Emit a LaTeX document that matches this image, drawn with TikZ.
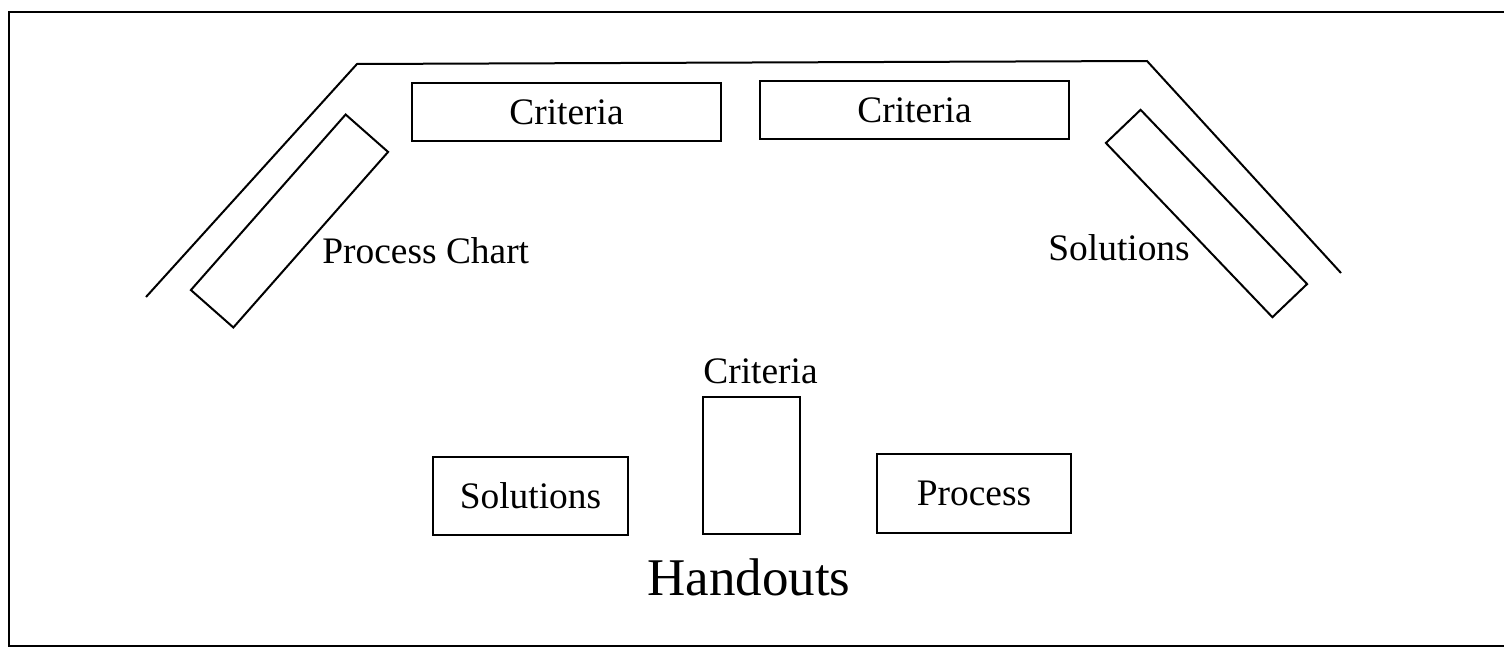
\documentclass[tikz,border=0pt]{standalone}
\usepackage{fontspec}
\setmainfont{Liberation Serif}
\begin{document}
\begin{tikzpicture}[x=0.5pt,y=-0.5pt,
  box/.style={draw,line width=1pt,inner sep=0pt,outer sep=0pt,font=\fontsize{18.7pt}{22pt}\selectfont},
  lbl/.style={inner sep=0pt,font=\fontsize{18.7pt}{22pt}\selectfont},
  big/.style={inner sep=0pt,font=\fontsize{26.5pt}{30pt}\selectfont},
  wall/.style={line width=1pt,line join=miter}]
\useasboundingbox (0,0) rectangle (1504,648);
% frame
\coordinate (f1) at (1504,12);
\coordinate (f2) at (9,12);
\coordinate (f3) at (9,646);
\coordinate (f4) at (1504,646);
\draw[line width=1.2pt] (f1) -- (f2) -- (f3) -- (f4);
% wall / table outline
\coordinate (w1) at (146,297);
\coordinate (w2) at (357,64);
\coordinate (w3) at (1147,61);
\coordinate (w4) at (1341,273);
\draw[wall] (w1) -- (w2) -- (w3) -- (w4);
% top boxes
\node[box,minimum width=154.5pt,minimum height=29pt] (crit1) at (566.5,112) {Criteria};
\node[box,minimum width=154.5pt,minimum height=29pt] (crit2) at (914.5,110) {Criteria};
% tilted boxes
\node[box,minimum width=117pt,minimum height=28.3pt,rotate=48.6] (pchart) at (289.5,221) {};
\node[box,minimum width=120.5pt,minimum height=24pt,rotate=-46.3] (solr) at (1206.5,213.5) {};
\node[lbl,anchor=base west] (pchartlbl) at (322,263) {Process Chart};
\node[lbl,anchor=base west] (solrlbl) at (1048,260) {Solutions};
% handouts
\node[box,minimum width=97.5pt,minimum height=39pt] (hsol) at (530.5,496) {Solutions};
\node[box,minimum width=48.5pt,minimum height=68.5pt] (hcrit) at (751.5,465.5) {};
\node[lbl,anchor=base west] (hcritlbl) at (703,383) {Criteria};
\node[box,minimum width=97pt,minimum height=39.5pt] (hproc) at (974,493.5) {Process};
\node[big,anchor=base west] (handouts) at (647,595) {Handouts};
\end{tikzpicture}
\end{document}
